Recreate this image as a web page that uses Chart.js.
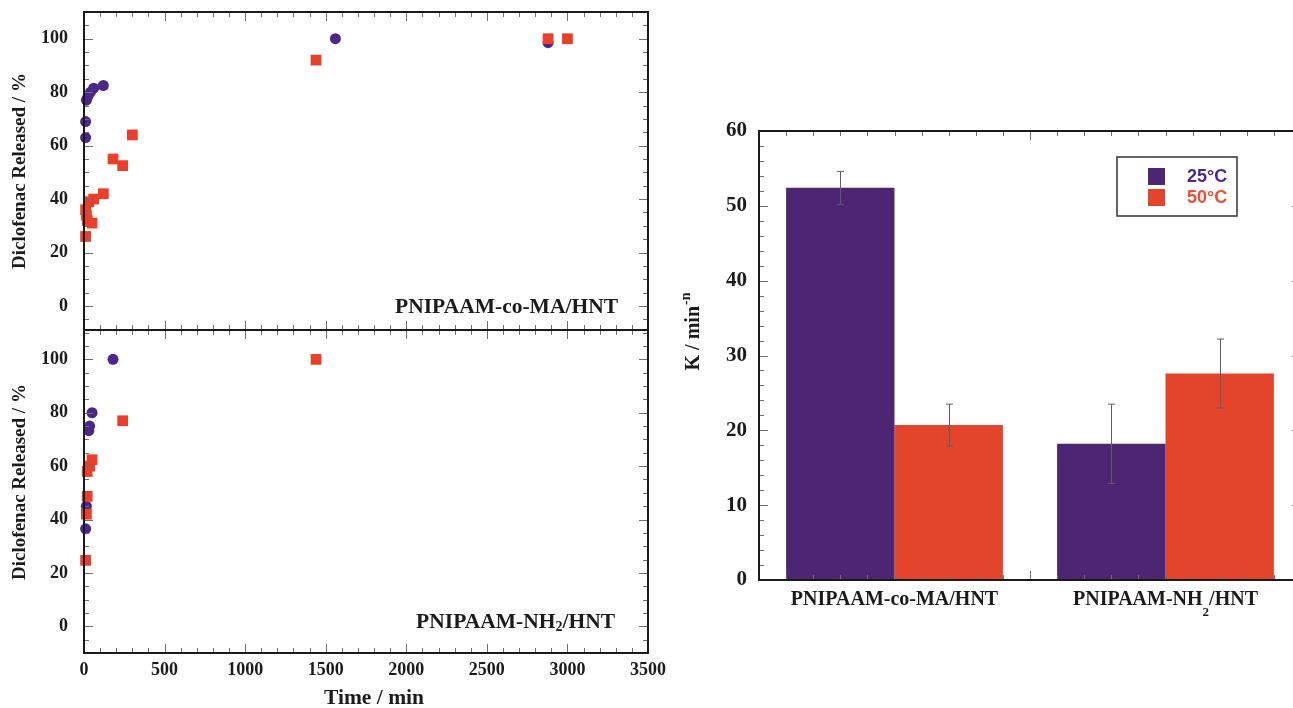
<!DOCTYPE html>
<html>
<head>
<meta charset="utf-8">
<title>Diclofenac release</title>
<script src="https://cdn.jsdelivr.net/npm/chart.js@4.4.1/dist/chart.umd.min.js"></script>
<style>
  html, body { margin: 0; padding: 0; background: #fff; overflow: hidden; }
  body { width: 1293px; height: 708px; position: relative; }
  canvas { position: absolute; }
</style>
</head>
<body>
<canvas id="releaseTop" width="680" height="332" style="left:0;top:0"></canvas>
<canvas id="releaseBottom" width="680" height="388" style="left:0;top:320px"></canvas>
<canvas id="rateChart" width="640" height="540" style="left:680px;top:100px"></canvas>
<script>
// tick labels
const timeTicks = [0, 500, 1000, 1500, 2000, 2500, 3000, 3500];
const releaseTicks = [0, 20, 40, 60, 80, 100];
const rateTicks = [0, 10, 20, 30, 40, 50, 60];

// release curves, time in min / released in %
const coMA25Time = [10, 10, 15, 25, 40, 60, 120, 1560, 2880];
const coMA25Release = [63, 69, 77, 78.5, 80, 81.5, 82.5, 100, 98.5];
const coMA50Time = [10, 10, 15, 20, 30, 50, 60, 120, 180, 240, 300, 1440, 2880, 3000];
const coMA50Release = [26, 36, 34, 32, 39, 31, 40, 42, 55, 52.5, 64, 92, 100, 100];
const nh225Time = [10, 15, 30, 35, 50, 180];
const nh225Release = [36.5, 45, 73.3, 75, 80, 100];
const nh250Time = [10, 15, 20, 20, 35, 50, 240, 1440];
const nh250Release = [24.7, 42, 48.7, 58, 60, 62.4, 77, 100];

// kinetic constants
const samples = ['PNIPAAM-co-MA/HNT', 'PNIPAAM-NH\u2082/HNT'];
const tempLabels = ['25\u00b0C', '50\u00b0C'];
const k25 = [52.4, 18.2];
const k25Err = [2.2, 5.3];
const k50 = [20.7, 27.6];
const k50Err = [2.8, 4.6];

const SERIF = "'Liberation Serif', 'Times New Roman', serif";
const SANS = "'Liberation Sans', Arial, sans-serif";
const PURPLE = '#4b2888';
const RED = '#e8402a';
const INK = '#1b1b1b';

function toPoints(xs, ys) {
  return xs.map((x, i) => ({ x: x, y: ys[i] }));
}

// fixed axis box, no extra room for overhanging labels
function fixBox(w, h) {
  return s => {
    if (w !== null) s.width = w;
    if (h !== null) s.height = h;
    s.paddingTop = 0; s.paddingBottom = 0;
    s.paddingLeft = 0; s.paddingRight = 0;
  };
}

function linearMarks(scale, minor, major) {
  const out = [];
  const n0 = Math.ceil(scale.min / minor - 1e-9);
  const n1 = Math.floor(scale.max / minor + 1e-9);
  for (let n = n0; n <= n1; n++) {
    const v = n * minor;
    out.push([v, Math.abs(v / major - Math.round(v / major)) < 1e-9]);
  }
  return out;
}

function categoryMarks(scale) {
  const out = [];
  const count = scale.getLabels().length;
  for (let k = 0; k <= count * 10; k++) {
    out.push([-0.5 + k / 10, k % 10 === 0]);
  }
  return out;
}

// box round the plot area with inward ticks on every side
const framePlugin = {
  id: 'frame',
  afterDatasetsDraw(chart, args, opts) {
    const { ctx, chartArea: a } = chart;
    const xs = chart.scales.x, ys = chart.scales.y;
    ctx.save();
    ctx.strokeStyle = '#6f6f6f';
    ctx.lineWidth = 1;
    ctx.beginPath();
    opts.xMarks(xs).forEach(([v, major]) => {
      const px = Math.round(xs.getPixelForValue(v)) + 0.5;
      const len = major ? 9 : 5;
      ctx.moveTo(px, a.top); ctx.lineTo(px, a.top + len);
      ctx.moveTo(px, a.bottom); ctx.lineTo(px, a.bottom - len);
    });
    opts.yMarks(ys).forEach(([v, major]) => {
      const py = Math.round(ys.getPixelForValue(v)) + 0.5;
      const len = major ? 9 : 5;
      ctx.moveTo(a.left, py); ctx.lineTo(a.left + len, py);
      ctx.moveTo(a.right, py); ctx.lineTo(a.right - len, py);
    });
    ctx.stroke();
    ctx.strokeStyle = '#1a1a1a';
    ctx.lineWidth = 2;
    ctx.strokeRect(a.left, a.top, a.right - a.left, a.bottom - a.top);
    ctx.restore();
  }
};

// text with the "₂" drawn as a lowered small digit
function drawSubText(ctx, text, x, y, size, align, drop) {
  const parts = text.split('\u2082');
  const big = 'bold ' + size + 'px ' + SERIF;
  const small = 'bold ' + Math.round(size * 0.65) + 'px ' + SERIF;
  ctx.font = small;
  const subW = ctx.measureText('2').width;
  ctx.font = big;
  let total = 0;
  parts.forEach((p, i) => { total += ctx.measureText(p).width + (i < parts.length - 1 ? subW : 0); });
  let cx = align === 'right' ? x - total : align === 'center' ? x - total / 2 : x;
  ctx.textAlign = 'left';
  ctx.textBaseline = 'middle';
  parts.forEach((p, i) => {
    ctx.font = big;
    ctx.fillText(p, cx, y);
    cx += ctx.measureText(p).width;
    if (i < parts.length - 1) {
      ctx.font = small;
      ctx.fillText('2', cx, y + drop);
      cx += subW;
    }
  });
}

function drawRotated(ctx, text, x, y, size) {
  ctx.save();
  ctx.translate(x, y);
  ctx.rotate(-Math.PI / 2);
  ctx.font = 'bold ' + size + 'px ' + SERIF;
  ctx.fillStyle = INK;
  ctx.textAlign = 'center';
  ctx.textBaseline = 'middle';
  ctx.fillText(text, 0, 0);
  ctx.restore();
}

function scatterOptions(showTimeLabels, timeAxisHeight, padTop, yMin, yMax) {
  return {
    responsive: false,
    animation: false,
    layout: { autoPadding: false, padding: { top: padTop, right: 32, left: 0, bottom: 0 } },
    plugins: {
      legend: { display: false },
      tooltip: { enabled: false },
      frame: {
        xMarks: s => linearMarks(s, 100, 500),
        yMarks: s => linearMarks(s, 5, 20)
      }
    },
    scales: {
      x: {
        type: 'linear',
        min: 0,
        max: 3500,
        afterBuildTicks: s => { s.ticks = timeTicks.map(v => ({ value: v })); },
        afterFit: fixBox(null, timeAxisHeight),
        grid: { display: false, drawTicks: false },
        border: { display: false },
        ticks: {
          display: showTimeLabels,
          maxRotation: 0,
          autoSkip: false,
          padding: 7,
          color: INK,
          font: { family: SERIF, weight: 'bold', size: 18 },
          callback: v => String(v)
        }
      },
      y: {
        min: yMin,
        max: yMax,
        afterBuildTicks: s => { s.ticks = releaseTicks.map(v => ({ value: v })); },
        afterFit: fixBox(84, null),
        grid: { display: false, drawTicks: false },
        border: { display: false },
        ticks: {
          padding: 16,
          color: INK,
          font: { family: SERIF, weight: 'bold', size: 18 },
          callback: v => String(v)
        }
      }
    }
  };
}

// 50°C squares go first so they sit over the circles
function releaseSets(t25, r25, t50, r50) {
  return [
    {
      label: tempLabels[1],
      data: toPoints(t50, r50),
      pointStyle: 'rect',
      pointRadius: 7.6,
      backgroundColor: RED,
      borderWidth: 0,
      showLine: false,
      clip: false
    },
    {
      label: tempLabels[0],
      data: toPoints(t25, r25),
      pointStyle: 'circle',
      pointRadius: 5.5,
      backgroundColor: PURPLE,
      borderWidth: 0,
      showLine: false,
      clip: false
    }
  ];
}

// PNIPAAM-co-MA/HNT release
new Chart(document.getElementById('releaseTop'), {
  type: 'scatter',
  data: { datasets: releaseSets(coMA25Time, coMA25Release, coMA50Time, coMA50Release) },
  options: scatterOptions(false, 2, 12, -9, 110),
  plugins: [framePlugin, {
    id: 'topText',
    afterDraw(chart) {
      const ctx = chart.ctx;
      drawRotated(ctx, 'Diclofenac Released / %', 20, 171, 19);
      ctx.fillStyle = INK;
      drawSubText(ctx, samples[0], 618, 307, 21.5, 'right', 0);
    }
  }]
});

// PNIPAAM-NH2/HNT release
new Chart(document.getElementById('releaseBottom'), {
  type: 'scatter',
  data: { datasets: releaseSets(nh225Time, nh225Release, nh250Time, nh250Release) },
  options: scatterOptions(true, 55, 10, -10, 111),
  plugins: [framePlugin, {
    id: 'bottomText',
    afterDraw(chart) {
      const ctx = chart.ctx;
      drawRotated(ctx, 'Diclofenac Released / %', 20, 162, 19);
      ctx.fillStyle = INK;
      drawSubText(ctx, samples[1], 615, 302, 21.5, 'right', 5);
      ctx.font = 'bold 21.5px ' + SERIF;
      ctx.textAlign = 'center';
      ctx.textBaseline = 'middle';
      ctx.fillText('Time / min', 374, 378);
    }
  }]
});

// error bars on top of each bar
const errorBarPlugin = {
  id: 'errorBars',
  afterDatasetsDraw(chart) {
    const { ctx } = chart;
    const ys = chart.scales.y;
    ctx.save();
    ctx.strokeStyle = '#5f5f5f';
    ctx.lineWidth = 1;
    chart.data.datasets.forEach((ds, d) => {
      chart.getDatasetMeta(d).data.forEach((bar, i) => {
        const v = ds.data[i], e = ds.errors[i];
        const x = Math.round(bar.x) + 0.5;
        const top = ys.getPixelForValue(v + e), bot = ys.getPixelForValue(v - e);
        ctx.beginPath();
        ctx.moveTo(x, top); ctx.lineTo(x, bot);
        ctx.moveTo(x - 3.5, top); ctx.lineTo(x + 3.5, top);
        ctx.moveTo(x - 3.5, bot); ctx.lineTo(x + 3.5, bot);
        ctx.stroke();
      });
    });
    ctx.restore();
  }
};

// sample names, axis title and boxed legend
const rateTextPlugin = {
  id: 'rateText',
  afterDraw(chart) {
    const { ctx } = chart;
    const xs = chart.scales.x;
    ctx.fillStyle = INK;
    xs.getLabels().forEach((name, i) => {
      drawSubText(ctx, name, xs.getPixelForValue(i), 500, 20, 'center', 13);
    });

    // K / min^-n
    ctx.save();
    ctx.translate(14, 232);
    ctx.rotate(-Math.PI / 2);
    ctx.textBaseline = 'middle';
    ctx.textAlign = 'left';
    ctx.font = 'bold 20px ' + SERIF;
    const base = 'K / min';
    const w1 = ctx.measureText(base).width;
    ctx.font = 'bold 14px ' + SERIF;
    const w2 = ctx.measureText('-n').width;
    const x0 = -(w1 + w2) / 2;
    ctx.font = 'bold 20px ' + SERIF;
    ctx.fillText(base, x0, 0);
    ctx.font = 'bold 14px ' + SERIF;
    ctx.fillText('-n', x0 + w1 + 1, -8);
    ctx.restore();

    // legend
    ctx.save();
    ctx.strokeStyle = '#333';
    ctx.lineWidth = 1.5;
    ctx.strokeRect(437, 57, 120, 59);
    const textColors = ['#4a2a8c', '#e8503a'];
    chart.data.datasets.forEach((ds, d) => {
      const y = 68 + d * 21;
      ctx.fillStyle = ds.backgroundColor;
      ctx.fillRect(468, y, 17, 17);
      ctx.fillStyle = textColors[d];
      ctx.font = 'bold 18px ' + SANS;
      ctx.textAlign = 'left';
      ctx.textBaseline = 'middle';
      ctx.fillText(ds.label, 507, y + 9);
    });
    ctx.restore();
  }
};

new Chart(document.getElementById('rateChart'), {
  type: 'bar',
  data: {
    labels: samples,
    datasets: [
      { label: tempLabels[0], data: k25, errors: k25Err, backgroundColor: '#4c2672', borderWidth: 0,
        categoryPercentage: 0.8, barPercentage: 1.0 },
      { label: tempLabels[1], data: k50, errors: k50Err, backgroundColor: '#e2452b', borderWidth: 0,
        categoryPercentage: 0.8, barPercentage: 1.0 }
    ]
  },
  options: {
    responsive: false,
    animation: false,
    layout: { autoPadding: false, padding: { top: 31, right: 19, left: 0, bottom: 0 } },
    plugins: {
      legend: { display: false },
      tooltip: { enabled: false },
      frame: {
        xMarks: categoryMarks,
        yMarks: s => linearMarks(s, 2, 10)
      }
    },
    scales: {
      x: {
        afterFit: fixBox(null, 60),
        grid: { display: false, drawTicks: false },
        border: { display: false },
        ticks: { display: false }
      },
      y: {
        min: 0,
        max: 60,
        afterBuildTicks: s => { s.ticks = rateTicks.map(v => ({ value: v })); },
        afterFit: fixBox(79, null),
        grid: { display: false, drawTicks: false },
        border: { display: false },
        ticks: {
          padding: 12,
          color: INK,
          font: { family: SERIF, weight: 'bold', size: 21 }
        }
      }
    }
  },
  plugins: [framePlugin, errorBarPlugin, rateTextPlugin]
});
</script>
</body>
</html>
